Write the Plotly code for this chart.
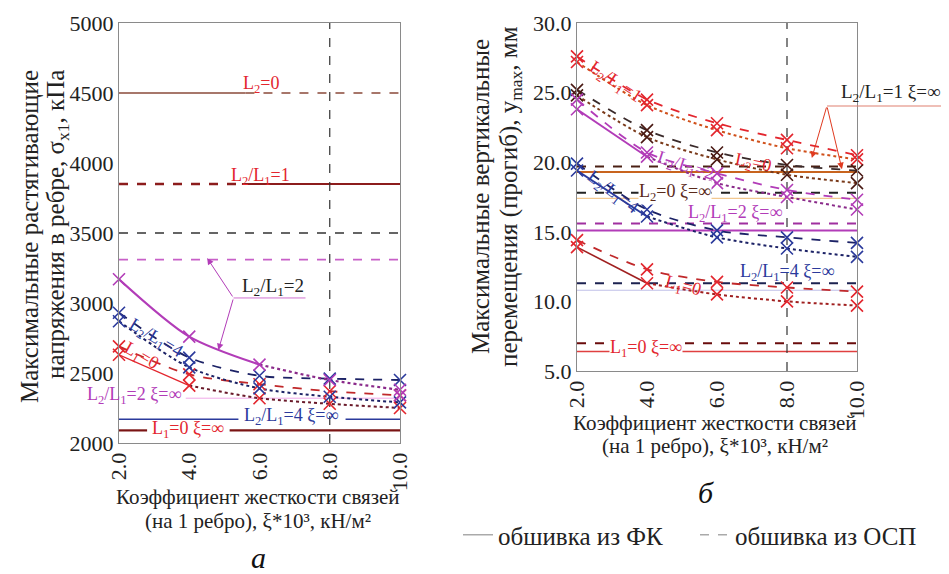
import plotly.graph_objects as go

# ---------------- DATA ----------------
xi = [2, 4, 6, 8, 10]
xi_ticks = [2, 4, 6, 8, 10]

# Left chart (a): max tensile stress in rib, kPa
sig_L10_osp = [2690, 2490, 2420, 2370, 2340]
sig_L10_fk = [2630, 2410, 2320, 2280, 2250]
sig_L4_osp = [2930, 2610, 2480, 2460, 2450]
sig_L4_fk = [2870, 2540, 2390, 2330, 2290]
sig_L2_fk = [3170, 2760, 2560, 2450, 2380]
sig_L2_fk_m10 = 2340  # extra magenta mark at xi=10

# xi = infinity levels (left)
sig_inf_L20 = 4500
sig_inf_L1 = 3850
sig_inf_black = 3500
sig_inf_L2_osp = 3310
sig_inf_L2_fk = 2320
sig_inf_L4_fk = 2170
sig_inf_L10_fk = 2090
split_L20 = 5.6
split_L1 = 5.5
gap_L4_fk = [5.4, 8.45]    # label gap on the L2/L1=4 xi=inf line
gap_L10_fk = [2.8, 5.15]   # label gap on the L1=0 xi=inf line

# Right chart (b): max vertical displacement, mm
y_L1_osp = [27.6, 24.5, 22.8, 21.6, 20.5]
y_L1_fk = [27.2, 24.1, 22.3, 21.0, 20.2]
y_L20_osp = [25.2, 22.3, 20.7, 19.8, 19.4]
y_L20_fk = [24.8, 21.8, 20.2, 19.1, 18.5]
y_L2_osp = [24.5, 20.7, 19.2, 18.0, 17.3]
y_L2_fk = [23.8, 20.4, 18.5, 17.5, 16.6]
y_L4_osp = [19.9, 16.6, 15.1, 14.6, 14.2]
y_L4_fk = [19.4, 16.1, 14.6, 13.8, 13.2]
y_L10_osp = [14.4, 12.3, 11.4, 11.0, 10.7]
y_L10_fk = [13.9, 11.3, 10.5, 10.0, 9.7]

# xi = infinity levels (right)
y_inf_L1_osp = 19.7
y_inf_L1_fk = 19.3
y_inf_L20_osp = 17.8
y_inf_L20_fk = 17.4
y_inf_L2_osp = 15.6
y_inf_L2_fk = 15.1
y_inf_L4_osp = 11.3
y_inf_L4_fk = 10.8
y_inf_L10_osp = 7.0
y_inf_L10_fk = 6.4

# ---------------- STYLE ----------------
FONT = "Liberation Serif, Times New Roman, serif"
RED = "#e3262e"
DRED = "#8c1c1c"
BROWN = "#8a4a3a"
MAG = "#b23cb8"
BLUE = "#2b3a9c"
NAVY = "#1c2266"
BLK = "#333333"
ORANGE = "#c8641e"
DBROWN = "#5a2a1a"

W, H = 949, 574
OFF = 8  # page body margin offset


def PX(px):
    return (px - OFF) / W


def PY(py):
    return 1 - (py - OFF) / H


fig = go.Figure()


def line(xs, ys, color, dash="solid", width=1.6, ax="", shape="spline"):
    fig.add_trace(go.Scatter(x=xs, y=ys, mode="lines", xaxis="x" + ax, yaxis="y" + ax,
                             line=dict(color=color, dash=dash, width=width, shape=shape,
                                       smoothing=0.8),
                             showlegend=False, hoverinfo="skip", cliponaxis=False))


def hline(v, color, dash="solid", width=1.6, ax="", x0=2, x1=10):
    line([x0, x1], [v, v], color, dash, width, ax, shape="linear")


def marks(xs, ys, color, ax=""):
    fig.add_trace(go.Scatter(x=xs, y=ys, mode="markers", xaxis="x" + ax, yaxis="y" + ax,
                             marker=dict(symbol="x-thin", size=12,
                                         line=dict(color=color, width=1.6)),
                             showlegend=False, hoverinfo="skip", cliponaxis=False))


# ---- left chart lines ----
hline(sig_inf_L20, BROWN, "solid", 1.6, "", 2, split_L20)
hline(sig_inf_L20, BROWN, "dash", 1.6, "", split_L20, 10)
hline(sig_inf_L1, DRED, "dash", 2.4, "", 2, split_L1)
hline(sig_inf_L1, DRED, "solid", 2.2, "", split_L1, 10)
hline(sig_inf_black, BLK, "dash", 1.3)
hline(sig_inf_L2_osp, "#c860c8", "dash", 1.6)
hline(sig_inf_L2_fk, "#f0a8e8", "solid", 1.0, "", 3.9, 10)
hline(sig_inf_L4_fk, BLUE, "solid", 1.4, "", 2, gap_L4_fk[0])
hline(sig_inf_L4_fk, BLUE, "solid", 1.4, "", gap_L4_fk[1], 10)
hline(sig_inf_L10_fk, "#7a1414", "solid", 2.2, "", 2, gap_L10_fk[0])
hline(sig_inf_L10_fk, "#7a1414", "solid", 2.2, "", gap_L10_fk[1], 10)
line([8, 8], [2000, 5000], BLK, "dash", 1.2, shape="linear")

line(xi, sig_L10_osp, "#c0282a", "dash", 1.8)
line(xi[1:], sig_L10_fk[1:], "#6a1a2a", "dot", 2.0)
line(xi[:2], sig_L10_fk[:2], RED, "solid", 1.4)
line(xi, sig_L4_osp, NAVY, "dash", 1.8)
line(xi, sig_L4_fk, NAVY, "dot", 2.0)
line(xi[:3], sig_L2_fk[:3], MAG, "solid", 2.2)
line(xi[2:], sig_L2_fk[2:], "#8a2a8a", "dot", 2.2)

marks(xi, sig_L10_osp, RED)
marks(xi, sig_L10_fk, RED)
marks(xi, sig_L4_osp, BLUE)
marks(xi, sig_L4_fk, BLUE)
marks(xi, sig_L2_fk, MAG)
marks([10], [sig_L2_fk_m10], MAG)

# ---- right chart lines ----
hline(y_inf_L1_osp, "#4a2014", "dash", 2.0, "2")
hline(y_inf_L1_fk, ORANGE, "solid", 2.0, "2")
hline(y_inf_L20_osp, "#222222", "dash", 2.0, "2")
hline(y_inf_L20_fk, "#f2c890", "solid", 1.4, "2")
hline(y_inf_L2_osp, "#a030a0", "dash", 2.0, "2")
hline(y_inf_L2_fk, MAG, "solid", 2.0, "2")
hline(y_inf_L4_osp, "#1c2250", "dash", 2.0, "2")
hline(y_inf_L4_fk, "#c0c0e8", "solid", 1.2, "2")
hline(y_inf_L10_osp, "#6a0c0c", "dash", 2.0, "2")
hline(y_inf_L10_fk, "#e04040", "solid", 1.4, "2")
line([8, 8], [5, 30], BLK, "dash", 1.2, "2", shape="linear")

line(xi, y_L1_osp, RED, "dash", 1.8, "2")
line(xi, y_L1_fk, "#d0501a", "dot", 2.0, "2")
line(xi, y_L20_osp, "#3a2a2a", "dash", 1.8, "2")
line(xi, y_L20_fk, "#7a3a1a", "dot", 2.0, "2")
line(xi, y_L2_osp, MAG, "dash", 1.8, "2")
line(xi[:2], y_L2_fk[:2], MAG, "solid", 1.8, "2")
line(xi[1:], y_L2_fk[1:], "#8a2a8a", "dot", 2.0, "2")
line(xi, y_L4_osp, NAVY, "dash", 1.8, "2")
line(xi[:2], y_L4_fk[:2], BLUE, "solid", 1.8, "2")
line(xi[1:], y_L4_fk[1:], NAVY, "dot", 2.0, "2")
line(xi, y_L10_osp, "#c0282a", "dash", 1.8, "2")
line(xi[:2], y_L10_fk[:2], "#a02020", "solid", 1.6, "2")
line(xi[1:], y_L10_fk[1:], "#a02020", "dot", 2.0, "2")

marks(xi, y_L1_osp, RED, "2")
marks(xi, y_L1_fk, RED, "2")
marks(xi, y_L20_osp, "#4a1a14", "2")
marks(xi, y_L20_fk, "#4a1a14", "2")
marks(xi, y_L2_osp, MAG, "2")
marks(xi, y_L2_fk, MAG, "2")
marks(xi, y_L4_osp, BLUE, "2")
marks(xi, y_L4_fk, BLUE, "2")
marks(xi, y_L10_osp, RED, "2")
marks(xi, y_L10_fk, RED, "2")

# ---- legend dummy traces ----
fig.add_trace(go.Scatter(x=[None], y=[None], mode="lines", name="обшивка из ФК",
                         line=dict(color="#aaaaaa", width=1.5)))
fig.add_trace(go.Scatter(x=[None], y=[None], mode="lines", name="обшивка из ОСП",
                         line=dict(color="#aaaaaa", width=1.5, dash="dash")))

# ---------------- AXES ----------------
tickfont = dict(family=FONT, size=22, color="#222222")
axcommon = dict(showgrid=False, zeroline=False, showline=True, mirror=True,
                linecolor="#8a8a8a", linewidth=1, ticks="", tickfont=tickfont,
                automargin=False)

fig.update_layout(
    width=W, height=H, margin=dict(l=0, r=0, t=0, b=0, pad=0, autoexpand=False),
    paper_bgcolor="white", plot_bgcolor="white",
    font=dict(family=FONT, color="#222222"),
    xaxis=dict(domain=[PX(119), PX(400)], range=[2, 10], tickvals=xi_ticks,
               tickformat=".1f", tickangle=-90, anchor="y", **axcommon),
    yaxis=dict(domain=[PY(443), PY(23)], range=[2000, 5000], dtick=500,
               anchor="x", **axcommon),
    xaxis2=dict(domain=[PX(577), PX(857)], range=[2, 10], tickvals=xi_ticks,
                tickformat=".1f", tickangle=-90, anchor="y2", **axcommon),
    yaxis2=dict(domain=[PY(371), PY(23)], range=[5, 30], dtick=5,
                tickformat=".1f", anchor="x2", **axcommon),
    legend=dict(orientation="h", x=PX(458), y=PY(535), xanchor="left", yanchor="middle",
                font=dict(family=FONT, size=25, color="#222222"), bgcolor="rgba(0,0,0,0)",
                entrywidth=192, entrywidthmode="pixels"),
)

ann = []


def txt(x, y, t, color, size=18, angle=0, ax="", bg=None, xanchor="center"):
    d = dict(x=x, y=y, xref="x" + ax, yref="y" + ax, text=t, showarrow=False,
             font=dict(family=FONT, size=size, color=color), textangle=angle,
             xanchor=xanchor, yanchor="middle")
    if bg:
        d["bgcolor"] = bg
        d["borderpad"] = 0
    ann.append(d)


def arrow(x0, y0, x1, y1, color, ax=""):
    ann.append(dict(x=x1, y=y1, ax=x0, ay=y0, xref="x" + ax, yref="y" + ax,
                    axref="x" + ax, ayref="y" + ax, text="", showarrow=True,
                    arrowhead=2, arrowsize=1.3, arrowwidth=1, arrowcolor=color))


def ptxt(px, py, t, size, angle=0, color="#222222"):
    ann.append(dict(x=PX(px), y=PY(py), xref="paper", yref="paper", showarrow=False,
                    text=t, textangle=angle, xanchor="center", yanchor="middle",
                    font=dict(family=FONT, size=size, color=color)))


# left labels
txt(6.03, 4564, "L<sub>2</sub>=0", RED)
txt(6.03, 3907, "L<sub>2</sub>/L<sub>1</sub>=1", RED)
txt(6.37, 3114, "L<sub>2</sub>/L<sub>1</sub>=2", "#222222", 19)
line([5.26, 7.31], [3036, 3036], "#d070d0", "solid", 1.0, shape="linear")
arrow(5.26, 3036, 4.51, 3321, MAG)
arrow(5.26, 3036, 4.83, 2664, MAG)
txt(3.03, 2743, "L<sub>2</sub>/L<sub>1</sub>=4", BLUE, 18, 31)
txt(2.63, 2621, "L<sub>1</sub>=0", RED, 18, 30)
txt(2.43, 2338, "L<sub>2</sub>/L<sub>1</sub>=2 ξ=∞", MAG, 18)
txt(6.91, 2186, "L<sub>2</sub>/L<sub>1</sub>=4 ξ=∞", BLUE, 18)
txt(3.97, 2093, "L<sub>1</sub>=0 ξ=∞", RED, 18)

# right labels
txt(3.09, 25.76, "L<sub>2</sub>/L<sub>1</sub>=1", RED, 18, 34, "2")
txt(7.03, 19.94, "L<sub>2</sub>=0", RED, 18, 12, "2")
txt(5.09, 19.66, "L<sub>2</sub>/L<sub>1</sub>=2", MAG, 18, 18, "2")
txt(3.0, 17.8, "L<sub>2</sub>/L<sub>1</sub>=4", BLUE, 18, 37, "2")
txt(4.8, 17.79, "L<sub>2</sub>=0 ξ=∞", DBROWN, 18, 0, "2", bg="white")
txt(6.51, 16.35, "L<sub>2</sub>/L<sub>1</sub>=2 ξ=∞", MAG, 18, 0, "2")
txt(8.0, 12.11, "L<sub>2</sub>/L<sub>1</sub>=4 ξ=∞", BLUE, 18, 0, "2")
txt(5.03, 11.1, "L<sub>1</sub>=0", RED, 18, 15, "2")
txt(3.97, 6.65, "L<sub>1</sub>=0 ξ=∞", RED, 18, 0, "2", bg="white")
arrow(9.14, 24.04, 8.71, 20.3, "#e03a20", "2")
arrow(9.14, 24.04, 9.57, 19.5, "#e03a20", "2")
ptxt(891, 93, "L<sub>2</sub>/L<sub>1</sub>=1 ξ=∞", 19)

# leader line of the "L2/L1=1 xi=inf" callout (extends past the plot area)
fig.add_shape(type="line", xref="paper", yref="paper", x0=PX(827), x1=PX(949),
              y0=PY(106), y1=PY(106), line=dict(color="#e08070", width=1.2))

# axis titles and captions
ptxt(30, 237, "Максимальные растягивающие", 25, -90)
ptxt(57, 225, "напряжения в ребре, σ<sub>x1</sub>, кПа", 25, -90)
ptxt(480, 197, "Максимальные вертикальные", 25, -90)
ptxt(510, 197, "перемещения (прогиб), y<sub>max</sub>, мм", 25, -90)
ptxt(258, 497, "Коэффициент жесткости связей", 21)
ptxt(258, 521, "(на 1 ребро), ξ*10³, кН/м²", 21)
ptxt(715, 423, "Коэффициент жесткости связей", 21)
ptxt(715, 446, "(на 1 ребро), ξ*10³, кН/м²", 21)
ptxt(258, 557, "<i>а</i>", 30, 0, "#111111")
ptxt(706, 492, "<i>б</i>", 30, 0, "#111111")

fig.update_layout(annotations=ann)
fig.write_html("out.html")
